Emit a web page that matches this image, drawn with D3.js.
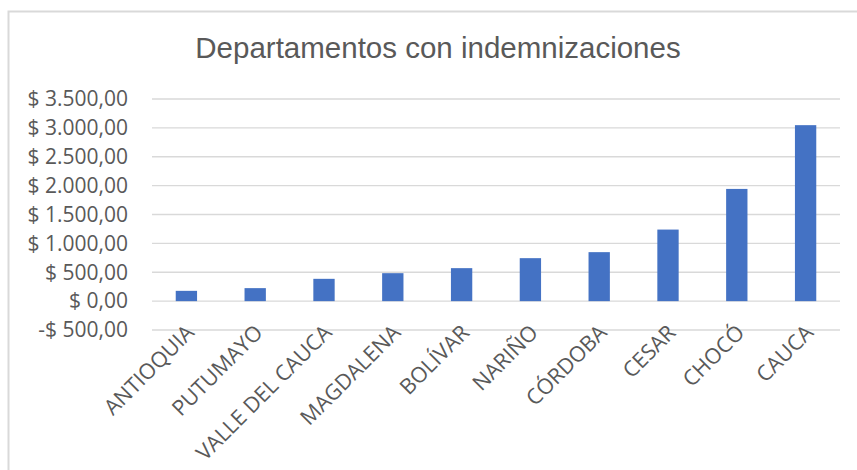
<!DOCTYPE html>
<html>
<head>
<meta charset="utf-8">
<script src="https://cdn.jsdelivr.net/npm/d3@7"></script>
<style>
  body { margin: 0; background: #fff; }
  svg { display: block; }
</style>
</head>
<body>
<div id="chart"></div>
<script>
var departamentos = ["ANTIOQUIA", "PUTUMAYO", "VALLE DEL CAUCA", "MAGDALENA", "BOLÍVAR", "NARIÑO", "CÓRDOBA", "CESAR", "CHOCÓ", "CAUCA"];
var indemnizaciones = [178, 225, 386, 484, 571, 744, 848, 1239, 1943, 3047];
var yTicks = [-500, 0, 500, 1000, 1500, 2000, 2500, 3000, 3500];

var svg = d3.select("#chart").append("svg").attr("width", 857).attr("height", 470);

// chart border (right/bottom run off the picture)
svg.append("rect")
    .attr("x", 8.5).attr("y", 11.5)
    .attr("width", 900).attr("height", 500)
    .attr("fill", "#fff")
    .attr("stroke", "#d9d9d9").attr("stroke-width", 2);

var x = d3.scaleBand().domain(departamentos).range([152, 840]).paddingInner(0.69).paddingOuter(0.345);
var y = d3.scaleLinear().domain([-500, 3500]).range([330, 99]);

// gridlines
svg.append("g").selectAll("line")
    .data(yTicks)
    .enter().append("line")
    .attr("x1", 152).attr("x2", 840)
    .attr("y1", d => y(d)).attr("y2", d => y(d))
    .attr("stroke", "#d9d9d9").attr("stroke-width", 1.4);

// y labels, es-CO style: $ 3.500,00
function fmt(v) {
    var s = d3.format(",.2f")(Math.abs(v)).replace(/,/g, "#").replace(".", ",").replace(/#/g, ".");
    return (v < 0 ? "-$ " : "$ ") + s;
}
svg.append("g").selectAll("text")
    .data(yTicks)
    .enter().append("text")
    .attr("x", 128).attr("y", d => y(d))
    .attr("dy", "0.35em")
    .attr("text-anchor", "end")
    .style("font", "21px 'Open Sans'")
    .attr("fill", "#595959")
    .text(fmt);

// bars
svg.append("g").selectAll("rect")
    .data(indemnizaciones)
    .enter().append("rect")
    .attr("x", (d, i) => x(departamentos[i]))
    .attr("width", x.bandwidth())
    .attr("y", d => y(d))
    .attr("height", d => y(0) - y(d))
    .attr("fill", "#4472c4");

// category labels
svg.append("g").selectAll("text")
    .data(departamentos)
    .enter().append("text")
    .attr("transform", d => `translate(${x(d) + x.bandwidth() / 2 + 9}, 334) rotate(-45)`)
    .attr("text-anchor", "end")
    .style("font", "21.5px 'Open Sans'")
    .attr("fill", "#595959")
    .text(d => d);

// title
svg.append("text")
    .attr("x", 438).attr("y", 58)
    .attr("text-anchor", "middle")
    .style("font", "29.5px 'Liberation Sans'")
    .attr("fill", "#595959")
    .text("Departamentos con indemnizaciones");
</script>
</body>
</html>
